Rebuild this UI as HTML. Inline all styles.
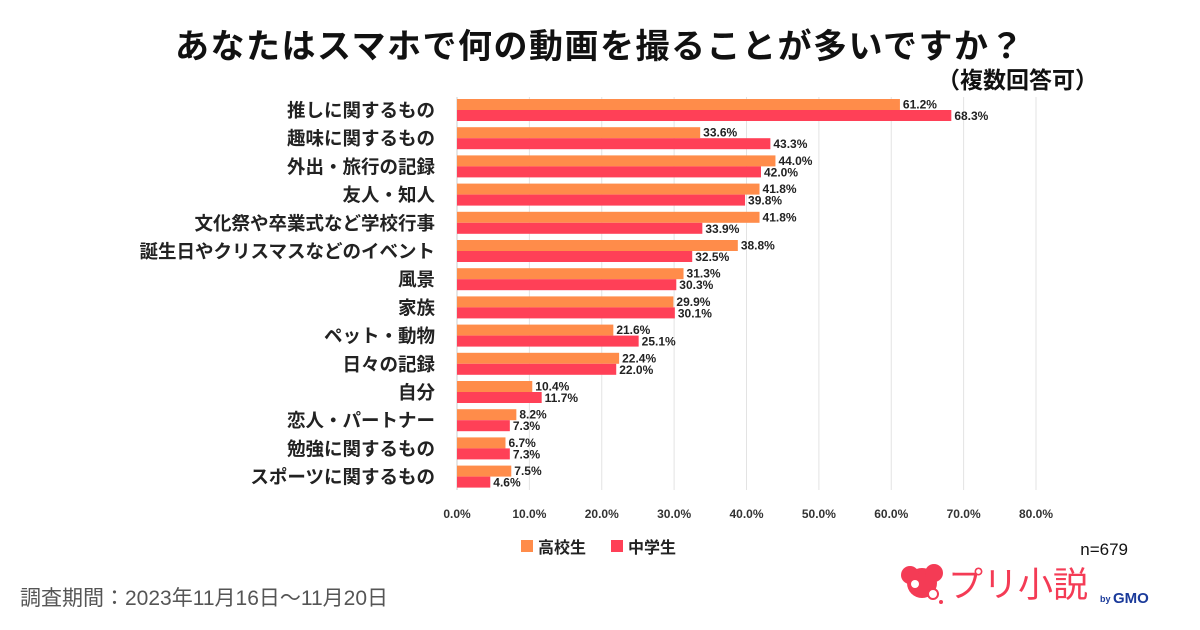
<!DOCTYPE html>
<html><head><meta charset="utf-8"><style>
body{margin:0;background:#fff;}
svg{display:block;font-family:"Liberation Sans","Noto Sans CJK JP",sans-serif;}
</style></head><body>
<svg id="chart" width="1200" height="630">
<text x="600" y="58" text-anchor="middle" font-size="34" font-weight="bold" letter-spacing="1.5" fill="#111">あなたはスマホで何の動画を撮ることが多いですか？</text>
<text x="1098" y="88" text-anchor="end" font-size="23" font-weight="bold" fill="#111">（複数回答可）</text>
<g id="grid"></g><g id="bars"></g><g id="labels"></g><g id="ticks"></g>
<rect x="521" y="540" width="12" height="12" fill="#FF8C4A"/>
<text x="538" y="553" font-size="16" font-weight="bold" fill="#222">高校生</text>
<rect x="611" y="540" width="12" height="12" fill="#FF4057"/>
<text x="628" y="553" font-size="16" font-weight="bold" fill="#222">中学生</text>
<text x="1128" y="555" text-anchor="end" font-size="17" fill="#111">n=679</text>
<text x="20" y="605" font-size="21" fill="#555">調査期間：2023年11月16日～11月20日</text>
<g>
<circle cx="922" cy="583" r="15" fill="#F43B55"/><circle cx="910" cy="575" r="9" fill="#F43B55"/><circle cx="934" cy="573" r="9" fill="#F43B55"/>
<circle cx="915" cy="584" r="4" fill="#fff"/><circle cx="933" cy="594" r="5" fill="#fff" stroke="#F43B55" stroke-width="2"/><circle cx="941" cy="602" r="2" fill="#F43B55"/>
<text x="948" y="597" font-size="35" fill="#F43B55">プリ小説</text>
<text x="1100" y="602" font-size="9" font-weight="bold" fill="#1a3a9a">by</text>
<text x="1113" y="603" font-size="15" font-weight="bold" fill="#1a3a9a">GMO</text>
</g>
</svg>
<script>
const categories=["推しに関するもの","趣味に関するもの","外出・旅行の記録","友人・知人","文化祭や卒業式など学校行事","誕生日やクリスマスなどのイベント","風景","家族","ペット・動物","日々の記録","自分","恋人・パートナー","勉強に関するもの","スポーツに関するもの"];
const highSchool=[61.2,33.6,44.0,41.8,41.8,38.8,31.3,29.9,21.6,22.4,10.4,8.2,6.7,7.5];
const middleSchool=[68.3,43.3,42.0,39.8,33.9,32.5,30.3,30.1,25.1,22.0,11.7,7.3,7.3,4.6];
const tickValues=[0,10,20,30,40,50,60,70,80];
const NS="http://www.w3.org/2000/svg";
const x=v=>457+v*7.2375;
const rowY=i=>99+i*28.2;
function mk(tag,attrs,parent,text){const e=document.createElementNS(NS,tag);for(const k in attrs)e.setAttribute(k,attrs[k]);if(text!==undefined)e.textContent=text;document.getElementById(parent).appendChild(e);return e;}
tickValues.forEach(t=>{
  const g=mk('line',{x1:x(t),x2:x(t),y1:97,y2:490,stroke:t===0?'#ccc':'#e3e3e3','stroke-width':1},'grid');
  
  
  const l=mk('text',{x:x(t),y:518,'text-anchor':'middle','font-size':12,'font-weight':'bold',fill:'#333'},'ticks',t.toFixed(1)+'%');
  
  
});
categories.forEach((c,i)=>{
  const y=rowY(i);
  const a=mk('rect',{x:x(0),y:y,width:x(highSchool[i])-x(0),height:11,fill:'#FF8C4A'},'bars');
  
  
  const b=mk('rect',{x:x(0),y:y+11,width:x(middleSchool[i])-x(0),height:11,fill:'#FF4057'},'bars');
  
  
  const va=mk('text',{x:x(highSchool[i])+3,y:y+9.5,'font-size':12,'font-weight':'bold',fill:'#222'},'labels',highSchool[i].toFixed(1)+'%');
  
  
  const vb=mk('text',{x:x(middleSchool[i])+3,y:y+21,'font-size':12,'font-weight':'bold',fill:'#222'},'labels',middleSchool[i].toFixed(1)+'%');
  
  
  const cl=mk('text',{x:435,y:y+18,'text-anchor':'end','font-size':18.5,'font-weight':'bold',fill:'#222'},'labels',c);
  
  
});
</script>
</body></html>
